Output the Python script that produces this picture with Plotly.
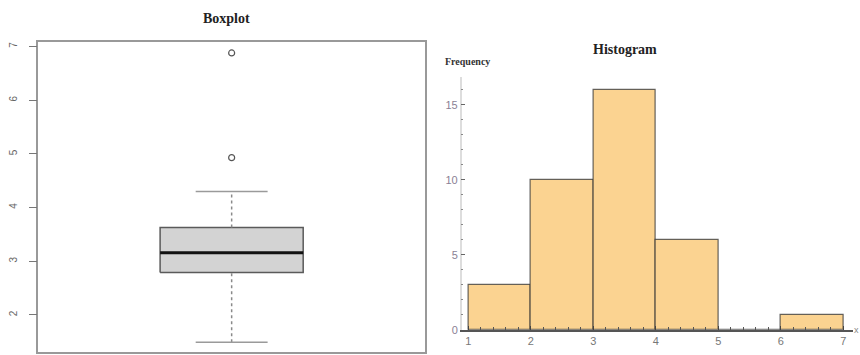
import plotly.graph_objects as go

# Five-number summary and outliers of the sample
box_q1 = 2.79
box_median = 3.16
box_q3 = 3.63
box_lower = 1.49
box_upper = 4.30
box_outliers = [4.93, 6.88]

# Histogram of the same sample
bin_edges = [1, 2, 3, 4, 5, 6, 7]
bin_counts = [3, 10, 16, 6, 0, 1]

W, H = 860, 355
SERIF = "Liberation Serif, Times New Roman, serif"
SANS = "Liberation Sans, Arial, sans-serif"


def px_x(px):
    return px / W


def px_y(py):
    return 1 - py / H


fig = go.Figure()

# ---- Boxplot (left panel) ----
c, hw, cw = 0.5, 0.185, 0.093
fig.add_trace(go.Scatter(
    x=[c - hw, c + hw, c + hw, c - hw, c - hw],
    y=[box_q1, box_q1, box_q3, box_q3, box_q1],
    fill="toself", fillcolor="#d3d3d3",
    line=dict(color="#5a5a5a", width=1.5), mode="lines",
    xaxis="x", yaxis="y", hoverinfo="skip"))
fig.add_trace(go.Scatter(
    x=[c - hw, c + hw], y=[box_median, box_median], mode="lines",
    line=dict(color="#111111", width=3), xaxis="x", yaxis="y"))
for a, b in [(box_q3, box_upper), (box_lower, box_q1)]:
    fig.add_trace(go.Scatter(
        x=[c, c], y=[a, b], mode="lines",
        line=dict(color="#8a8a8a", width=1.5, dash="dot"),
        xaxis="x", yaxis="y"))
for v in [box_upper, box_lower]:
    fig.add_trace(go.Scatter(
        x=[c - cw, c + cw], y=[v, v], mode="lines",
        line=dict(color="#9a9a9a", width=1.5), xaxis="x", yaxis="y"))
fig.add_trace(go.Scatter(
    x=[c] * len(box_outliers), y=box_outliers, mode="markers",
    marker=dict(symbol="circle-open", size=6, color="#555555",
                line=dict(width=1.2)),
    xaxis="x", yaxis="y"))

# ---- Histogram (right panel) ----
centers = [(bin_edges[i] + bin_edges[i + 1]) / 2 for i in range(len(bin_counts))]
widths = [bin_edges[i + 1] - bin_edges[i] for i in range(len(bin_counts))]
fig.add_trace(go.Bar(
    x=centers, y=bin_counts, width=widths,
    marker=dict(color="#fbd391", line=dict(color="rgba(50,50,50,0.75)", width=1.2)),
    xaxis="x2", yaxis="y2"))

fig.update_layout(
    width=W, height=H,
    margin=dict(l=0, r=0, t=0, b=0, autoexpand=False),
    paper_bgcolor="white", plot_bgcolor="white",
    showlegend=False, bargap=0,
    xaxis=dict(domain=[px_x(38.3), px_x(425)], range=[0, 1], automargin=False,
               showticklabels=False, ticks="", showgrid=False, zeroline=False,
               showline=True, mirror=True, linecolor="#999999", linewidth=1.5),
    yaxis=dict(domain=[px_y(352), px_y(41.7)], range=[1.31, 7.09], automargin=False,
               tickvals=[2, 3, 4, 5, 6, 7], ticks="outside", ticklen=8,
               tickcolor="#777777", tickangle=-90, ticklabelstandoff=8,
               tickfont=dict(family=SANS, size=10, color="#666666"),
               showgrid=False, zeroline=False,
               showline=True, mirror=True, linecolor="#999999", linewidth=1.5),
    xaxis2=dict(domain=[px_x(461.7), px_x(853)], range=[0.894, 7.155],
                anchor="y2", automargin=False,
                tickvals=bin_edges, ticks="inside", ticklen=4,
                tickcolor="#444444",
                minor=dict(dtick=0.2, tick0=1, ticks="inside", ticklen=3,
                           tickcolor="#555555", showgrid=False),
                tickfont=dict(family=SANS, size=11, color="#777777"),
                showgrid=False, zeroline=False,
                showline=True, linecolor="#555555", linewidth=1.5),
    yaxis2=dict(domain=[px_y(329.7), px_y(77)], range=[0, 16.85],
                anchor="x2", automargin=False,
                tickvals=[0, 5, 10, 15], ticks="inside", ticklen=4,
                tickcolor="#666666",
                minor=dict(dtick=1, ticks="inside", ticklen=2,
                           tickcolor="#888888", showgrid=False),
                tickfont=dict(family=SANS, size=11, color="#8a7f95"),
                showgrid=False, zeroline=False,
                showline=True, linecolor="#dddddd", linewidth=1.5),
    annotations=[
        dict(text="<b>Boxplot</b>", x=px_x(226), y=px_y(18), xref="paper",
             yref="paper", showarrow=False, xanchor="center", yanchor="middle",
             font=dict(family=SERIF, size=14, color="#222222")),
        dict(text="<b>Histogram</b>", x=px_x(625), y=px_y(49), xref="paper",
             yref="paper", showarrow=False, xanchor="center", yanchor="middle",
             font=dict(family=SERIF, size=14, color="#222222")),
        dict(text="<b>Frequency</b>", x=px_x(467), y=px_y(62), xref="paper",
             yref="paper", showarrow=False, xanchor="center", yanchor="middle",
             font=dict(family=SERIF, size=10, color="#333333")),
        dict(text="x", x=1.0, y=px_y(330), xref="paper",
             yref="paper", showarrow=False, xanchor="right", yanchor="middle",
             borderpad=0, font=dict(family=SANS, size=9, color="#888888")),
    ],
)

fig.write_html("out.html")
